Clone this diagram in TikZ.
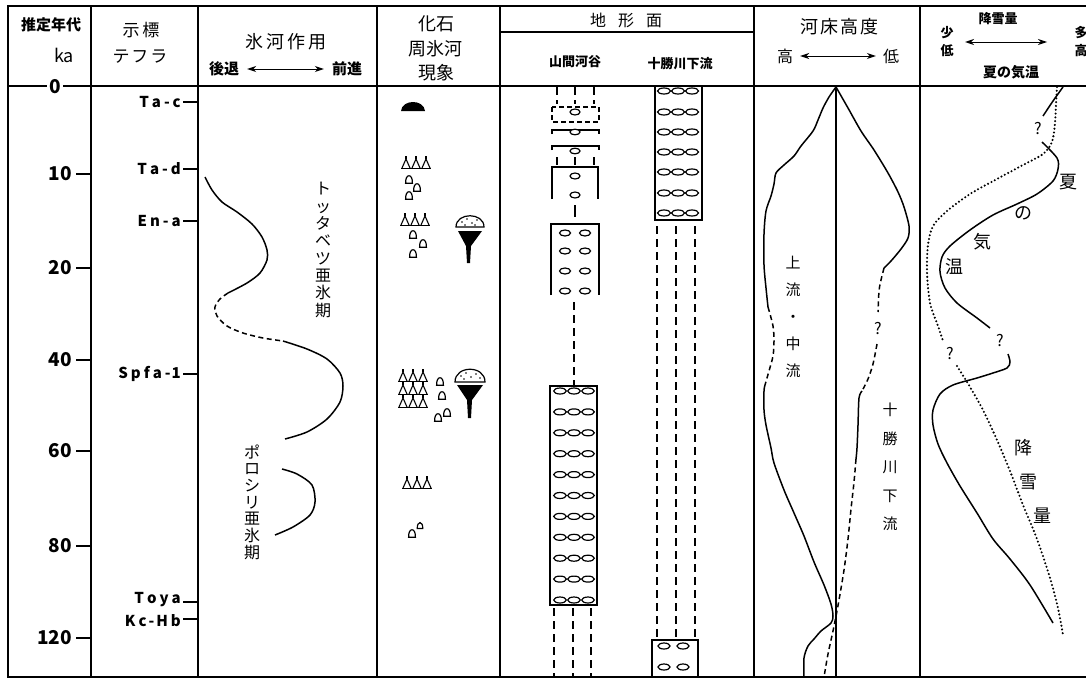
\documentclass[tikz,border=0pt]{standalone}
\usepackage{fontspec}
\newfontfamily\jp{Noto Sans CJK JP}
\usetikzlibrary{arrows.meta}
\newcommand\jpf[1]{\jp\fontsize{#1}{#1}\selectfont}
\newcommand\jpv[2]{\jp\fontsize{#1}{#2}\selectfont}
\begin{document}
\begin{tikzpicture}[x=1pt,y=-1pt,
  frame/.style={line width=2.2pt},
  divider/.style={line width=1.4pt},
  tick/.style={line width=1.6pt},
  curve/.style={line width=1.5pt},
  dcurve/.style={line width=1.5pt, dash pattern=on 5pt off 3.5pt},
  dotc/.style={line width=2.3pt, dash pattern=on 0pt off 3.8pt, line cap=round},
  terr/.style={line width=1.6pt},
  tdash/.style={line width=2.2pt, dash pattern=on 8pt off 5pt},
  grav/.style={line width=1.2pt, fill=white},
  lbl/.style={inner sep=0pt},
  dbl/.style={line width=1pt, {Stealth[length=9pt,width=6pt]}-{Stealth[length=9pt,width=6pt]}},
  wedges/.pic={
    \draw[line width=1pt] (-1,0) -- (29,0);
    \foreach \i in {0,10,20} {
      \draw[line width=1.1pt] (\i,0) -- (\i+4,-9) -- (\i+8,0);
      \draw[line width=1.1pt] (\i+4,-9) -- (\i+4,-12);
    }
  },
  pebble/.pic={
    \draw[line width=1.2pt] (-3.4,3.2) .. controls (-3.6,-1) and (-2.2,-4.3) .. (0,-4.3) .. controls (2.2,-4.3) and (3.6,-1) .. (3.4,3.2) -- cycle;
  },
]
\useasboundingbox (0,0) rectangle (1086,680);
\fill[white] (0,0) rectangle (1086,680);

% ---------- frame and grid ----------
\draw[frame] (1095,6) -- (8,6) -- (8,677) -- (1095,677);
\draw[divider] (8,86) -- (1095,86);
\foreach \x in {91,198,377,500,754,920} \draw[divider] (\x,6) -- (\x,677);
\draw[divider] (500,32) -- (754,32);
\draw[divider] (836,86) -- (836,677);

% ---------- headers ----------
\node[lbl,font=\bfseries\jpf{15}] (hAge) at (51,25) {推定年代};
\node[lbl,font=\jpf{18}] (hKa) at (64,55) {ka};
\node[lbl,font=\jpf{17}] (hInd) at (141,30) {示\kern3pt 標};
\node[lbl,font=\jpf{17}] (hTeph) at (140,57) {テ\kern2pt フ\kern2pt ラ};
\node[lbl,font=\jpf{18}] (hGla) at (286,42) {氷\kern3pt 河\kern3pt 作\kern3pt 用};
\node[lbl,font=\bfseries\jpf{15}] (hRet) at (224,69) {後退};
\node[lbl,font=\bfseries\jpf{15}] (hAdv) at (347,69) {前進};
\draw[dbl] ([xshift=8pt]hRet.east) -- ([xshift=-8pt]hAdv.west);

\node[lbl,font=\jpf{18}] (hFos1) at (436,24) {化石};
\node[lbl,font=\jpf{18}] (hFos2) at (435,49) {周氷河};
\node[lbl,font=\jpf{18}] (hFos3) at (436,73) {現象};

\node[lbl,font=\jpf{16}] (hTer) at (626,20) {地\kern12pt 形\kern12pt 面};
\node[lbl,font=\bfseries\jpf{13}] (hMtn) at (575,62) {山間河谷};
\node[lbl,font=\bfseries\jpf{13}] (hTok) at (680,64) {十勝川下流};

\node[lbl,font=\jpf{18}] (hBed) at (839,27) {河\kern2pt 床\kern2pt 高\kern2pt 度};
\node[lbl,font=\jpf{16}] (hHi) at (785,56) {高};
\node[lbl,font=\jpf{16}] (hLo) at (891,56) {低};
\draw[dbl] ([xshift=7pt]hHi.east) -- ([xshift=-7pt]hLo.west);

\node[lbl,font=\bfseries\jpf{13}] (hSnow) at (998,19) {降雪量};
\node[lbl,font=\bfseries\jpf{13}] (hFew) at (947,33) {少};
\node[lbl,font=\bfseries\jpf{13}] (hLow) at (947,51) {低};
\node[lbl,font=\bfseries\jpf{13}] (hMany) at (1081,33) {多};
\node[lbl,font=\bfseries\jpf{13}] (hHigh) at (1081,51) {高};
\draw[dbl] (965,42) -- (1047,42);
\node[lbl,font=\bfseries\jpf{14}] (hSum) at (1011,72) {夏の気温};

% ---------- age axis ----------
\node[fill=white,inner sep=2pt,font=\bfseries\jpf{19}] (a0) at (55,87) {0};
\foreach \v/\y in {10/174,20/268,40/360,60/451,80/546,120/638} {
  \node[lbl,anchor=east,font=\bfseries\jpf{19}] (a\v) at (72,\y) {\v};
  \draw[tick] (76,\y) -- (91,\y);
}

% ---------- tephra ----------
\foreach \n/\t/\y in {tac/T\kern3pt a\kern3pt -\kern3pt c/102,
                      tad/T\kern3pt a\kern3pt -\kern3pt d/169,
                      ena/E\kern3pt n\kern3pt -\kern3pt a/221,
                      spf/S\kern3pt p\kern3pt f\kern3pt a\kern3pt -\kern1pt 1/374,
                      toy/T\kern3pt o\kern3pt y\kern3pt a/600,
                      kch/K\kern3pt c\kern2pt -\kern2pt H\kern3pt b/621} {
  \node[lbl,anchor=east,font=\bfseries\jpf{15}] (te\n) at (181,\y) {\t};
}
\foreach \y in {102,169,221,374,602,619} \draw[tick] (183,\y) -- (198,\y);

% ---------- glacier ----------
\draw[curve] plot[smooth] coordinates {(205,177) (212,190) (222,202) (237,212) (252,224) (262,237) (267,250) (267,260) (260,273) (247,283) (228,293)};
\draw[dcurve] plot[smooth] coordinates {(228,293) (220,299) (215,307) (217,316) (227,326) (243,333) (263,338) (283,341)};
\draw[curve] plot[smooth] coordinates {(283,341) (307,349) (327,359) (340,373) (343,386) (340,402) (327,419) (307,432) (285,439)};
\draw[curve] plot[smooth] coordinates {(282,469) (297,474) (312,485) (315,502) (310,515) (293,527) (275,535)};
\node[lbl,align=center,font=\jpv{16}{17.3}] (gTot) at (323,250) {ト\\ッ\\タ\\ベ\\ツ\\亜\\氷\\期};
\node[lbl,align=center,font=\jpv{16}{16.7}] (gPor) at (252,502) {ポ\\ロ\\シ\\リ\\亜\\氷\\期};

% ---------- fossils / periglacial ----------
\fill (401,111) .. controls (402,99) and (424,99) .. (425,111) -- cycle;
\pic at (402,168) {wedges};
\pic at (409,180) {pebble}; \pic at (417,188) {pebble}; \pic at (409,196) {pebble};
\pic at (401,225) {wedges};
\pic at (413,235) {pebble}; \pic at (423,244) {pebble}; \pic at (413,254) {pebble};
\draw[line width=1.2pt,fill=white] (456,227) .. controls (456,212) and (484,212) .. (484,227) -- cycle;
\foreach \p in {(462,222),(467,219),(472,223),(477,220),(465,225),(475,225)} \fill \p circle (0.8);
\fill (458,231) -- (482,231) -- (471,246) -- (470,263) -- (467,263) -- (466,246) -- cycle;
\pic at (399,381) {wedges}; \pic at (399,394) {wedges}; \pic at (399,407) {wedges};
\pic at (440,382) {pebble}; \pic at (442,396) {pebble}; \pic at (438,418) {pebble}; \pic at (447,413) {pebble};
\draw[line width=1.2pt,fill=white] (455,382) .. controls (455,365) and (485,365) .. (485,382) -- cycle;
\foreach \p in {(461,376),(466,373),(471,377),(476,374),(480,378),(464,379)} \fill \p circle (0.8);
\fill (457,385) -- (483,385) -- (472,400) -- (471,418) -- (468,418) -- (467,400) -- cycle;
\pic at (403,488) {wedges};
\pic at (412,534) {pebble}; \pic[scale=0.8] at (420,526) {pebble};

% ---------- terraces: mountain valley ----------
\foreach \x in {557,575,594} \draw[tdash] (\x,87) -- (\x,104);
\draw[line width=1.4pt, dash pattern=on 5pt off 3pt] (552,107) rectangle (599,122);
\draw[grav] (575,112) ellipse (5 and 3);
\draw[line width=1.5pt] (552,134) -- (552,130) -- (599,130) -- (599,134);
\draw[grav] (575,132) ellipse (5 and 2.8);
\draw[line width=1.5pt] (552,150) -- (552,146) -- (599,146) -- (599,150);
\draw[grav] (575,151) ellipse (5 and 2.8);
\foreach \x in {557,575,594} \draw[line width=2.2pt] (\x,157) -- (\x,165);
\draw[terr] (552,199) -- (552,167) -- (598,167) -- (598,199);
\draw[grav] (575,176) ellipse (5 and 3);
\draw[grav] (575,195) ellipse (5 and 3);
\draw[line width=2.2pt] (575,205) -- (575,217);
\draw[terr] (551,295) -- (551,224) -- (599,224) -- (599,295);
\foreach \y in {233,251,271,291} \foreach \x in {565,585} \draw[grav] (\x,\y) ellipse (5.5 and 3);
\draw[tdash] (574,302) -- (574,385);
\draw[terr] (550,386) rectangle (597,605);
\foreach \k in {0,...,10} \foreach \x in {560,574,588} \draw[grav] (\x,391+20.9*\k) ellipse (6.3 and 3);
\foreach \x in {554,573,591} \draw[tdash] (\x,608) -- (\x,677);

% ---------- terraces: Tokachi lower reaches ----------
\draw[terr] (655,86) rectangle (702,220);
\foreach \y in {91,112,132,152,172,193,213} \foreach \x in {664,678,692} \draw[grav] (\x,\y) ellipse (6.5 and 3);
\foreach \x in {657,676,695} \draw[tdash] (\x,226) -- (\x,637);
\draw[terr] (652,677) -- (652,640) -- (698,640) -- (698,677);
\foreach \y in {646,667} \foreach \x in {664,683} \draw[grav] (\x,\y) ellipse (6 and 3);

% ---------- river bed height ----------
\draw[curve] plot[smooth] coordinates {(836,87) (829,97) (823,108) (818,120) (813,131) (801,146) (794,156) (784,165) (776,173) (774,184) (771,196) (766,211) (764,234) (764,265) (766,288) (768,307)};
\draw[dcurve] plot[smooth] coordinates {(768,307) (773,326) (774,341) (773,356) (769,371) (765,385)};
\draw[curve] plot[smooth] coordinates {(765,385) (764,391) (764,410) (766,425) (771,448) (774,463) (784,490) (794,513) (804,536) (814,562) (824,585) (831,604) (833,616) (831,623) (821,631) (814,639) (808,646) (804,658) (804,677)};
\draw[curve] plot[smooth] coordinates {(836,87) (848,108) (861,131) (874,150) (888,173) (898,192) (904,207) (909,226) (908,238) (901,249) (891,261) (884,268)};
\draw[dcurve] plot[smooth] coordinates {(884,268) (881,280) (879,291) (878,312)};
\node[lbl,font=\jpf{16}] (qBed) at (878,329) {?};
\draw[dcurve] plot[smooth] coordinates {(877,344) (873,364) (868,379) (862,391)};
\draw[curve] plot[smooth] coordinates {(862,391) (859,398) (858,425) (857,448) (856,459)};
\draw[dcurve] plot[smooth] coordinates {(856,459) (854,482) (851,509) (848,539) (844,570) (839,600) (836,616) (833,631) (828,654) (824,677)};
\node[lbl,align=center,font=\jpv{15}{27}] (bUp) at (793,317) {上\\流\\・\\中\\流};
\node[lbl,align=center,font=\jpv{15}{28.5}] (bLow) at (890,467) {十\\勝\\川\\下\\流};

% ---------- climate ----------
\draw[curve] plot[smooth] coordinates {(1063,87) (1053,101) (1043,116)};
\node[lbl,font=\jpf{16}] (qC1) at (1038,129) {?};
\draw[curve] plot[smooth] coordinates {(1042,142) (1057,158) (1058,169) (1053,181) (1037,194) (1017,204) (993,215) (970,230) (950,246) (942,257) (940,272) (945,288) (957,303) (977,318) (990,328)};
\node[lbl,font=\jpf{16}] (qC2) at (1000,341) {?};
\draw[curve] plot[smooth] coordinates {(1008,354) (1010,362) (1007,368) (993,373) (977,378) (953,385) (940,394) (933,410) (933,425) (938,444) (947,463) (960,486) (977,513) (993,539) (1010,559) (1030,585) (1053,623)};
\draw[dotc] plot[smooth] coordinates {(1057,87) (1056,104) (1055,123) (1052,142) (1043,154) (1023,165) (997,179) (970,194) (947,211) (933,226) (928,245) (927,272) (930,303) (938,326) (943,341)};
\node[lbl,font=\jpf{16}] (qC3) at (950,354) {?};
\draw[dotc] plot[smooth] coordinates {(957,366) (970,387) (983,410) (997,440) (1010,471) (1023,505) (1037,539) (1050,578) (1058,608) (1063,635)};
\node[lbl,font=\jpf{18}] (cT1) at (1068,182) {夏};
\node[lbl,font=\jpf{18}] (cT2) at (1023,213) {の};
\node[lbl,font=\jpf{18}] (cT3) at (982,242) {気};
\node[lbl,font=\jpf{18}] (cT4) at (954,267) {温};
\node[lbl,font=\jpf{18}] (cS1) at (1023,448) {降};
\node[lbl,font=\jpf{18}] (cS2) at (1028,482) {雪};
\node[lbl,font=\jpf{18}] (cS3) at (1042,516) {量};
\end{tikzpicture}
\end{document}
